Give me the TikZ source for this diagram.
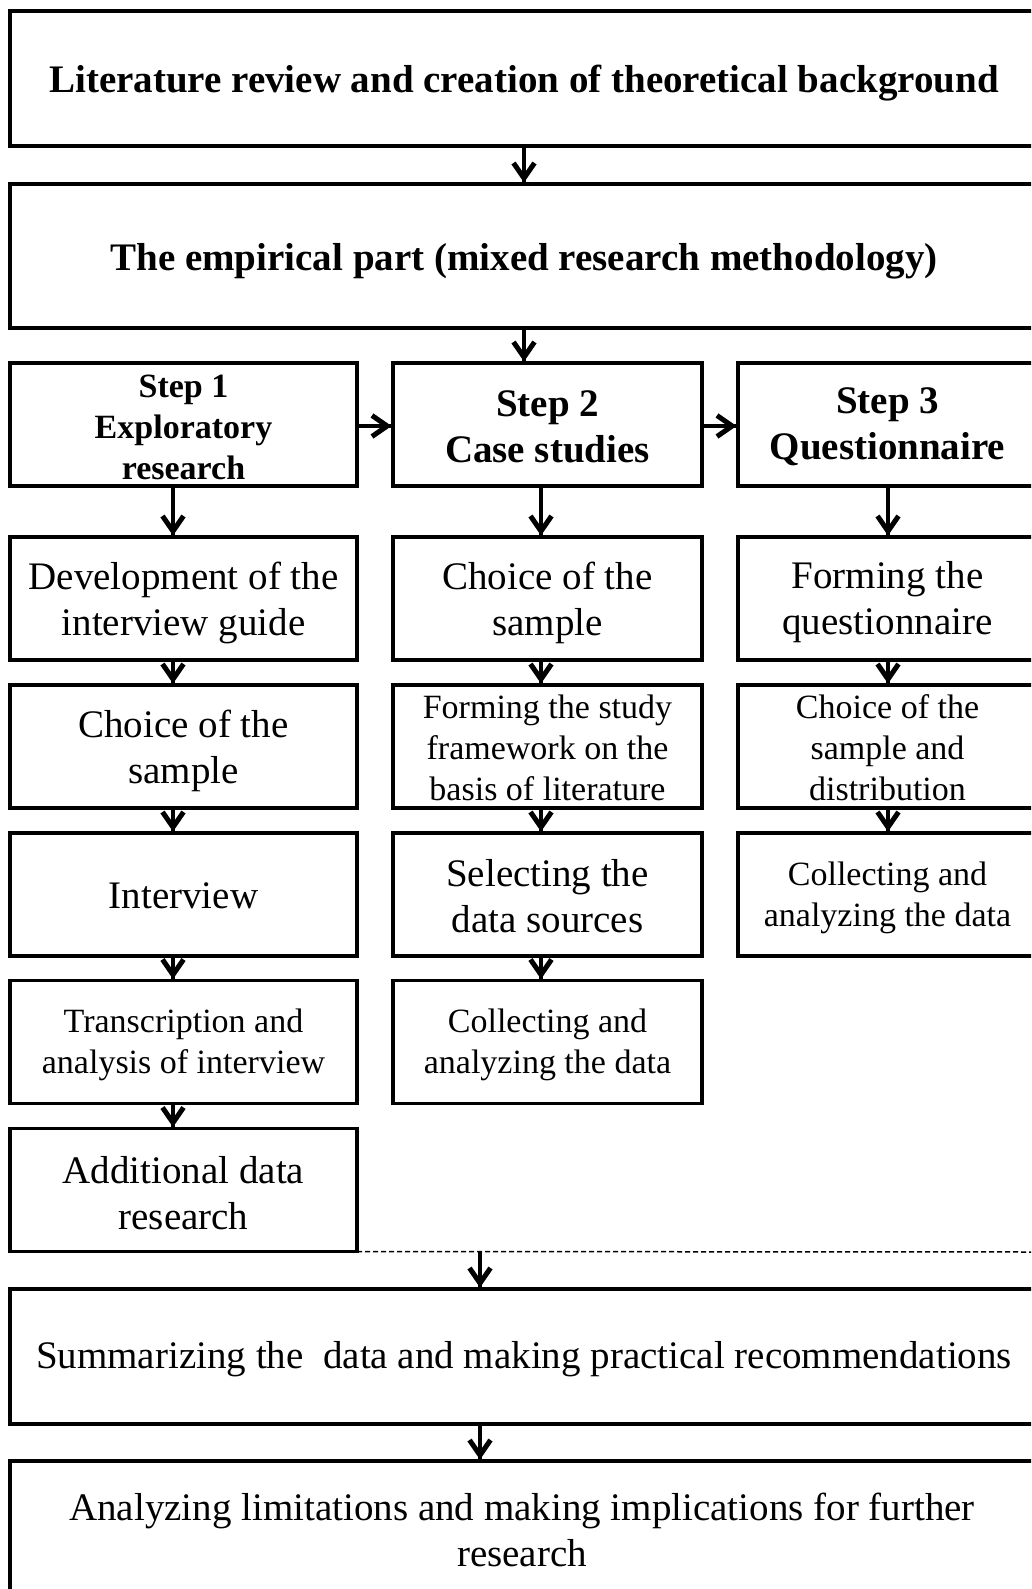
\documentclass[tikz,border=0pt]{standalone}
\usepackage{fontspec}
\setmainfont{Liberation Serif}
\newcommand\flowbox[6][-3pt]{%
  \node[box,#4] (#2) at (#3) {};
  \node[txt,#5,yshift=#1] (#2t) at (#2.center) {#6};}
\begin{document}
\begin{tikzpicture}[x=1pt,y=-1pt,
  box/.style={draw=black, line width=3.6pt, inner sep=0pt, outer sep=0pt, fill=white},
  txt/.style={align=center, inner sep=0pt},
  big/.style={font=\fontsize{39}{46}\selectfont},
  small/.style={font=\fontsize{34}{41}\selectfont},
  bigb/.style={font=\fontsize{39}{46}\selectfont\bfseries},
  smallb/.style={font=\fontsize{34}{41}\selectfont\bfseries},
  shaft/.style={line width=3.8pt},
  headline/.style={line width=5pt, line join=miter, miter limit=10, line cap=butt},
  vhead/.pic={\draw[headline] (-10.5,-21) -- (0,-5.8) -- (10.5,-21);},
  hhead/.pic={\draw[headline] (-21,-10.5) -- (-5.8,0) -- (-21,10.5);},
  c1/.style={minimum width=347pt, minimum height=123pt},
  c2/.style={minimum width=309pt, minimum height=123pt},
  c3/.style={minimum width=299pt, minimum height=123pt},
  wide/.style={minimum width=1028pt}
]
\useasboundingbox (0,0) rectangle (1031,1589);
\clip (0,0) rectangle (1031,1589);
\fill[white] (0,0) rectangle (1031,1589);

% wide boxes
\flowbox[-5pt]{lit}{524,78.5}{wide, minimum height=135pt}{bigb}{Literature review and creation of theoretical background}
\flowbox[-5pt]{emp}{524,256}{wide, minimum height=144pt}{bigb}{The empirical part (mixed research methodology)}

% step row
\flowbox{s1}{183.5,424.5}{c1}{smallb}{Step 1\\Exploratory\\research}
\flowbox[-2pt]{s2}{547.5,424.5}{c2}{bigb}{Step 2\\Case studies}
\flowbox[-2pt]{s3}{887.5,424.5}{c3}{bigb}{Step 3\\Questionnaire}

% column 1
\flowbox[-4pt]{a1}{183.5,598.5}{c1}{big}{Development of the\\interview guide}
\flowbox[-4pt]{a2}{183.5,746.5}{c1}{big}{Choice of the\\sample}
\flowbox[-1pt]{a3}{183.5,894.5}{c1}{big}{Interview}
\flowbox{a4}{183.5,1042}{c1}{small}{Transcription and\\analysis of interview}
\flowbox{a5}{183.5,1190}{c1}{big}{Additional data\\research}

% column 2
\flowbox[-4pt]{b1}{547.5,598.5}{c2}{big}{Choice of the\\sample}
\flowbox[-1pt]{b2}{547.5,746.5}{c2}{small}{Forming the study\\framework on the\\basis of literature}
\flowbox[-2pt]{b3}{547.5,894.5}{c2}{big}{Selecting the\\data sources}
\flowbox{b4}{547.5,1042}{c2}{small}{Collecting and\\analyzing the data}

% column 3
\flowbox[-4pt]{c1n}{887.5,598.5}{c3}{big}{Forming the\\questionnaire}
\flowbox[-1pt]{c2n}{887.5,746.5}{c3}{small}{Choice of the\\sample and\\distribution}
\flowbox[-3pt]{c3n}{887.5,894.5}{c3}{small}{Collecting and\\analyzing the data}

% bottom boxes
\flowbox{sum}{524,1356.5}{wide, minimum height=135pt}{big}{Summarizing the~ data and making practical recommendations}
\flowbox[-1pt]{lim}{522,1528.5}{minimum width=1024pt, minimum height=135pt}{big}{Analyzing limitations and making implications for further\\research}

% guide coordinates
\coordinate (xm) at (524,0);
\coordinate (xa) at (173,0);
\coordinate (xb) at (541,0);
\coordinate (xc) at (888,0);
\coordinate (xd) at (480,0);
\coordinate (hy) at (0,426);
\coordinate (dashend) at (1040,1252);

% connectors (shaft from node to node, head at the target)
\draw[shaft] (lit.south -| xm) -- (emp.north -| xm) pic {vhead};
\draw[shaft] (emp.south -| xm) -- (s2.north -| xm) pic {vhead};
\draw[shaft] (s1.east |- hy) -- (s2.west |- hy) pic {hhead};
\draw[shaft] (s2.east |- hy) -- (s3.west |- hy) pic {hhead};

\draw[shaft] (s1.south -| xa) -- (a1.north -| xa) pic {vhead};
\draw[shaft] (a1.south -| xa) -- (a2.north -| xa) pic {vhead};
\draw[shaft] (a2.south -| xa) -- (a3.north -| xa) pic {vhead};
\draw[shaft] (a3.south -| xa) -- (a4.north -| xa) pic {vhead};
\draw[shaft] (a4.south -| xa) -- (a5.north -| xa) pic {vhead};

\draw[shaft] (s2.south -| xb) -- (b1.north -| xb) pic {vhead};
\draw[shaft] (b1.south -| xb) -- (b2.north -| xb) pic {vhead};
\draw[shaft] (b2.south -| xb) -- (b3.north -| xb) pic {vhead};
\draw[shaft] (b3.south -| xb) -- (b4.north -| xb) pic {vhead};

\draw[shaft] (s3.south -| xc) -- (c1n.north -| xc) pic {vhead};
\draw[shaft] (c1n.south -| xc) -- (c2n.north -| xc) pic {vhead};
\draw[shaft] (c2n.south -| xc) -- (c3n.north -| xc) pic {vhead};

\draw[line width=1.5pt, dash pattern=on 5pt off 3pt] (a5.south east) -- (dashend);
\draw[shaft] (a5.south -| xd) -- (sum.north -| xd) pic {vhead};
\draw[shaft] (sum.south -| xd) -- (lim.north -| xd) pic {vhead};
\end{tikzpicture}
\end{document}
